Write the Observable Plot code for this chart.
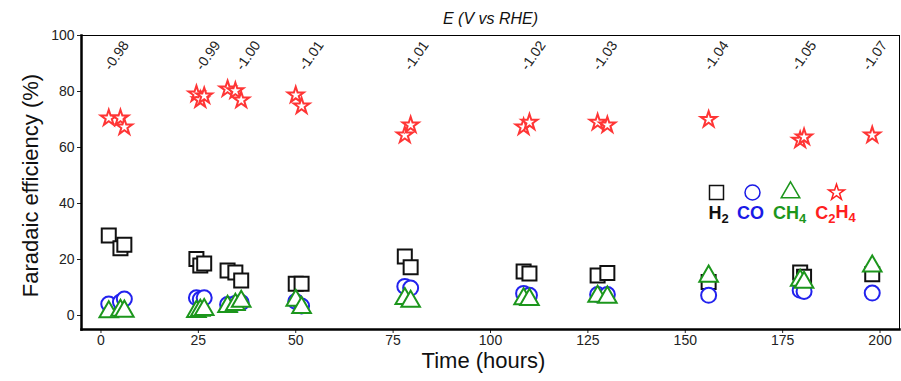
<!DOCTYPE html>
<html><head><meta charset="utf-8">
<script src="https://cdn.jsdelivr.net/npm/d3@7"></script>
<script src="https://cdn.jsdelivr.net/npm/@observablehq/plot@0.6"></script>
<style>body{margin:0;background:#fff;} #chart svg{display:block;}</style>
</head><body><div id="chart"></div>
<script>
// Measurement times (hours)
const hours = [2, 5, 6, 24.5, 25.5, 26.5, 32.5, 34.5, 36, 50, 51.5, 78, 79.5, 108.5, 110, 127.5, 130, 156, 179.5, 180.5, 198];
// Faradaic efficiencies (%)
const h2   = [28.6, 24.0, 25.3, 20.2, 17.9, 18.6, 16.1, 15.4, 12.5, 11.3, 11.3, 21.1, 17.2, 15.7, 15.0, 14.3, 15.2, 12.0, 15.4, 13.8, 14.7];
const co   = [4.1, 4.8, 5.9, 6.3, 5.8, 6.3, 3.9, 4.3, 4.6, 5.0, 3.4, 10.4, 9.8, 7.9, 7.2, 7.5, 7.5, 7.2, 9.0, 8.6, 8.0];
const ch4  = [1.3, 1.8, 1.5, 1.4, 1.8, 2.1, 3.2, 3.9, 5.0, 5.4, 2.8, 6.0, 5.0, 5.9, 5.7, 6.8, 6.5, 14.0, 12.5, 11.8, 17.6];
const c2h4 = [70.5, 70.5, 67.3, 79.1, 77.0, 78.4, 80.9, 80.2, 76.9, 78.7, 74.8, 64.4, 68.0, 67.3, 69.0, 69.0, 68.0, 70.0, 62.6, 63.7, 64.4];
// Applied potential labels (E, V vs RHE)
const potentialHours  = [4, 27.5, 37.8, 54, 81, 111, 129.4, 158, 180.5, 198.7];
const potentialLabels = ["-0.98", "-0.99", "-1.00", "-1.01", "-1.01", "-1.02", "-1.03", "-1.04", "-1.05", "-1.07"];
// Axis ticks
const xTicks = [0, 25, 50, 75, 100, 125, 150, 175, 200];
const yTicks = [0, 20, 40, 60, 80, 100];
// Series names / legend
const seriesNames = ["H2", "CO", "CH4", "C2H4"];

const styles = {
  H2:   {values: h2,   symbol: "square",   color: "#111111", r: 7.9, legendColor: "#111111"},
  CO:   {values: co,   symbol: "circle",   color: "#2222ee", r: 7.5, legendColor: "#1a1ae6"},
  CH4:  {values: ch4,  symbol: "triangle", color: "#1c961c", r: 6.9, legendColor: "#1c961c"},
  C2H4: {values: c2h4, symbol: "star",     color: "#ff3535", r: 5.0, legendColor: "#ff2020"}
};

const legendSymbolDx = [635, 671, 709, 755];
const legendTextDx   = [637, 669, 708, 754];

const marks = [];
for (const name of seriesNames) {
  const s = styles[name];
  const rows = hours.map((t, i) => ({t, v: s.values[i]}));
  marks.push(Plot.dot(rows, {x: "t", y: "v", symbol: s.symbol, r: s.r, stroke: s.color, fill: "white", strokeWidth: 2}));
}
seriesNames.forEach((name, i) => {
  const s = styles[name];
  marks.push(Plot.dot([name], {frameAnchor: "top-left", dx: legendSymbolDx[i], dy: 157, symbol: s.symbol, r: s.r, stroke: s.legendColor, fill: "white", strokeWidth: 1.5}));
  marks.push(Plot.text([name], {text: d => d, frameAnchor: "top-left", textAnchor: "middle", lineAnchor: "middle", dx: legendTextDx[i], dy: 178, fill: s.legendColor, fontSize: 18, fontWeight: "bold"}));
});

const plot = Plot.plot({
  width: 901, height: 381,
  marginLeft: 81, marginRight: 2, marginTop: 35, marginBottom: 52,
  style: {fontFamily: "'Liberation Sans', Arial, sans-serif", background: "white"},
  x: {domain: [-5, 205], axis: null},
  y: {domain: [-5, 100], axis: null},
  marks: [
    Plot.axisX({ticks: xTicks, tickSize: 4, tickPadding: 2, fontSize: 14, label: null, color: "#222"}),
    Plot.axisY({ticks: yTicks, tickSize: 4, tickPadding: 3, fontSize: 14, label: null, color: "#222"}),
    ...marks,
    Plot.text(potentialLabels, {x: potentialHours, text: potentialLabels, frameAnchor: "top", textAnchor: "middle", lineAnchor: "middle", dy: 20, rotate: -55, fontSize: 14, fill: "#222"}),
    Plot.text(["E (V vs RHE)"], {text: d => d, frameAnchor: "top", textAnchor: "middle", lineAnchor: "middle", dy: -17, fontSize: 16, fontStyle: "italic", fill: "#111"}),
    Plot.text(["Time (hours)"], {text: d => d, frameAnchor: "bottom", textAnchor: "middle", lineAnchor: "middle", dy: 31, dx: -7, fontSize: 22, fill: "#111"}),
    Plot.text(["Faradaic efficiency (%)"], {text: d => d, frameAnchor: "left", textAnchor: "middle", lineAnchor: "middle", dx: -51, dy: 3, rotate: -90, fontSize: 22, fill: "#111"}),
    Plot.frame({stroke: "#000", strokeWidth: 1}),
    Plot.frame({anchor: "left", stroke: "#000", strokeWidth: 2.5}),
    Plot.frame({anchor: "bottom", stroke: "#000", strokeWidth: 2.5})
  ]
});
document.getElementById("chart").appendChild(plot);

// Render chemical subscripts in legend labels
d3.select(plot).selectAll("text").filter(function() {
  return seriesNames.includes(this.textContent) && this.childElementCount === 0;
}).each(function() {
  const el = d3.select(this);
  const txt = el.text();
  el.text(null);
  let sub = false;
  for (const ch of txt) {
    const isDigit = /\d/.test(ch);
    const ts = el.append("tspan").text(ch);
    if (isDigit && !sub) { ts.attr("dy", "0.3em").attr("font-size", 13); sub = true; }
    else if (isDigit && sub) { ts.attr("font-size", 13); }
    else if (!isDigit && sub) { ts.attr("dy", "-0.3em"); sub = false; }
  }
});
</script>
</body></html>
